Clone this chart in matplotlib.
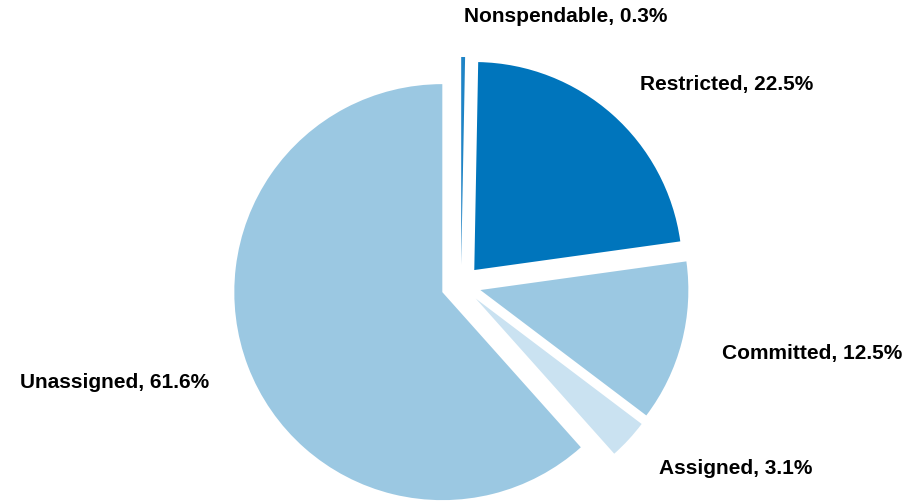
import matplotlib
matplotlib.use("Agg")
import matplotlib.pyplot as plt

# Fund balance composition
categories = ["Nonspendable", "Restricted", "Committed", "Assigned", "Unassigned"]
shares = [0.3, 22.5, 12.5, 3.1, 61.6]
colors = ["#1F84C6", "#0075BC", "#9BC8E2", "#CAE2F1", "#9BC8E2"]

labels = [f"{c}, {v}%" for c, v in zip(categories, shares)]

W, H = 908, 502
fig = plt.figure(figsize=(W / 100, H / 100), dpi=100)
ax = fig.add_axes([0, 0, 1, 1])

radius = 208
gap = 20
center = (461, 216)
wedges, texts = ax.pie(
    shares,
    labels=labels,
    colors=colors,
    explode=[gap] * len(shares),
    startangle=90,
    counterclock=False,
    radius=radius,
    center=center,
    labeldistance=1.2,
    wedgeprops=dict(linewidth=0),
    textprops=dict(fontfamily="Liberation Sans", fontweight="bold",
                   fontsize=15, color="black"),
    frame=True,
)

# labels on the left side of the pie hang off to the left
for t in texts:
    x, _ = t.get_position()
    t.set_ha("left" if x >= center[0] else "right")

ax.set_xlim(0, W)
ax.set_ylim(0, H)
ax.set_aspect("equal")
ax.axis("off")

fig.savefig("out.png", dpi=100, facecolor="white")
